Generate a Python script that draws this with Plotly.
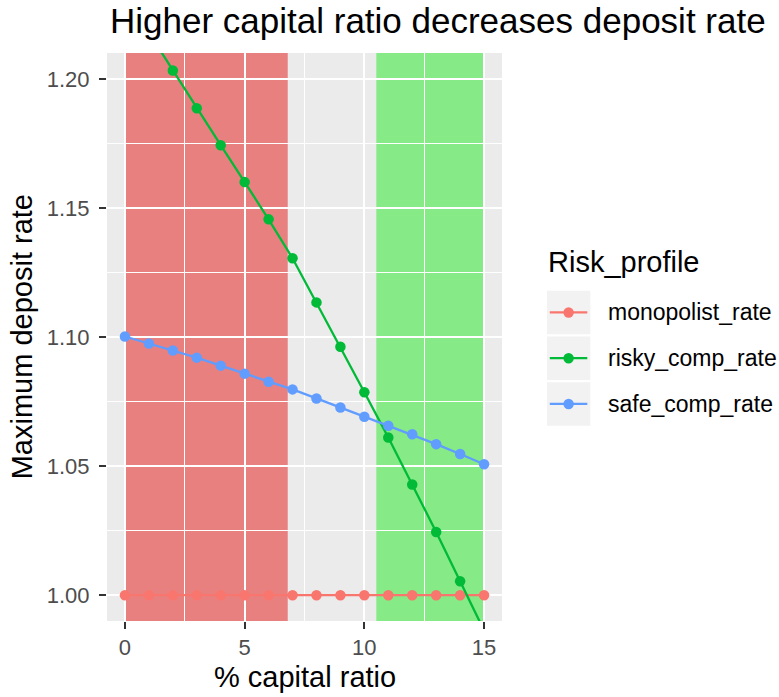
import plotly.graph_objects as go

# ---- data ----
capital_ratio = list(range(0, 16))
monopolist_rate = [1.000] * 16
risky_comp_rate = [1.2324, 1.2178, 1.2032, 1.1886, 1.1743, 1.1600, 1.1456, 1.1305,
                   1.1134, 1.0962, 1.0786, 1.0611, 1.0429, 1.0245, 1.0054, 0.9863]
safe_comp_rate = [1.1002, 1.0975, 1.0948, 1.0920, 1.0889, 1.0858, 1.0827, 1.0797,
                  1.0762, 1.0727, 1.0691, 1.0656, 1.0623, 1.0585, 1.0547, 1.0507]
series_names = ["monopolist_rate", "risky_comp_rate", "safe_comp_rate"]
series_colors = ["#F8766D", "#00BA38", "#619CFF"]
red_zone = [0, 6.8]
green_zone = [10.5, 15]
x_ticks = [0, 5, 10, 15]
y_ticks = [1.00, 1.05, 1.10, 1.15, 1.20]
y_tick_labels = ["1.00", "1.05", "1.10", "1.15", "1.20"]

W, H = 779, 697
PL, PR, PT, PB = 106.7, 501.7, 53.3, 620.7


def px_x(px):
    return (px - PL) / (PR - PL)


def px_y(py):
    return (PB - py) / (PB - PT)


fig = go.Figure()
for name, vals, col in zip(series_names, [monopolist_rate, risky_comp_rate, safe_comp_rate], series_colors):
    fig.add_trace(go.Scatter(
        x=capital_ratio, y=vals, mode="lines+markers", name=name,
        line=dict(color=col, width=2.3), marker=dict(color=col, size=10.5),
        showlegend=False, hoverinfo="skip",
    ))

shapes = [
    dict(type="rect", xref="x", yref="paper", x0=red_zone[0], x1=red_zone[1], y0=0, y1=1,
         fillcolor="rgba(231,21,21,0.5)", line=dict(width=0), layer="between"),
    dict(type="rect", xref="x", yref="paper", x0=green_zone[0], x1=green_zone[1], y0=0, y1=1,
         fillcolor="rgba(33,233,33,0.5)", line=dict(width=0), layer="between"),
]

annotations = [
    dict(text="Higher capital ratio decreases deposit rate", xref="paper", yref="paper",
         x=px_x(108), y=px_y(21), xanchor="left", yanchor="middle", showarrow=False,
         font=dict(size=35, color="black")),
    dict(text="% capital ratio", xref="paper", yref="paper",
         x=0.5, y=px_y(677), xanchor="center", yanchor="middle", showarrow=False,
         font=dict(size=29, color="black")),
    dict(text="Maximum deposit rate", xref="paper", yref="paper", textangle=-90,
         x=px_x(22), y=0.5, xanchor="center", yanchor="middle", showarrow=False,
         font=dict(size=29, color="black")),
    dict(text="Risk_profile", xref="paper", yref="paper",
         x=px_x(546), y=px_y(262), xanchor="left", yanchor="middle", showarrow=False,
         font=dict(size=29, color="black")),
]

# manual legend
key_tops = [290.7, 336.4, 382.1]
key_h = 43.6
for name, col, top in zip(series_names, series_colors, key_tops):
    cy = top + key_h / 2
    shapes.append(dict(type="rect", xref="paper", yref="paper",
                       x0=px_x(546.7), x1=px_x(590), y0=px_y(top + key_h), y1=px_y(top),
                       fillcolor="#F2F2F2", line=dict(width=0), layer="above"))
    shapes.append(dict(type="line", xref="paper", yref="paper",
                       x0=px_x(549.5), x1=px_x(587), y0=px_y(cy), y1=px_y(cy),
                       line=dict(color=col, width=2.3), layer="above"))
    shapes.append(dict(type="circle", xref="paper", yref="paper",
                       xsizemode="pixel", ysizemode="pixel",
                       xanchor=px_x(568.3), yanchor=px_y(cy),
                       x0=-5.2, x1=5.2, y0=-5.2, y1=5.2,
                       fillcolor=col, line=dict(width=0), layer="above"))
    annotations.append(dict(text=name, xref="paper", yref="paper",
                            x=px_x(606), y=px_y(cy), xanchor="left", yanchor="middle",
                            showarrow=False, font=dict(size=23, color="black")))

fig.update_layout(
    width=W, height=H,
    margin=dict(l=PL, r=W - PR, t=PT, b=H - PB),
    paper_bgcolor="white", plot_bgcolor="#EBEBEB",
    font=dict(family="Liberation Sans, Arial, sans-serif"),
    shapes=shapes, annotations=annotations,
    xaxis=dict(range=[-0.75, 15.75], tickvals=x_ticks, ticktext=[str(v) for v in x_ticks],
               showgrid=True, gridcolor="white", gridwidth=2.2, zeroline=False,
               ticks="outside", ticklen=7, tickwidth=2, tickcolor="#333333",
               tickfont=dict(size=22, color="#4D4D4D"), showline=False,
               minor=dict(tickvals=[2.5, 7.5, 12.5], showgrid=True, gridcolor="white", gridwidth=1.1, ticks="")),
    yaxis=dict(range=[0.99, 1.21], tickvals=y_ticks, ticktext=y_tick_labels,
               showgrid=True, gridcolor="white", gridwidth=2.2, zeroline=False,
               ticks="outside", ticklen=7, tickwidth=2, tickcolor="#333333",
               tickfont=dict(size=22, color="#4D4D4D"), showline=False, ticklabelstandoff=5,
               minor=dict(tickvals=[1.025, 1.075, 1.125, 1.175], showgrid=True, gridcolor="white", gridwidth=1.1, ticks="")),
)

fig.write_html("out.html", config={"displayModeBar": False},
               post_script="document.body.style.margin='0';document.body.style.padding='0';")
